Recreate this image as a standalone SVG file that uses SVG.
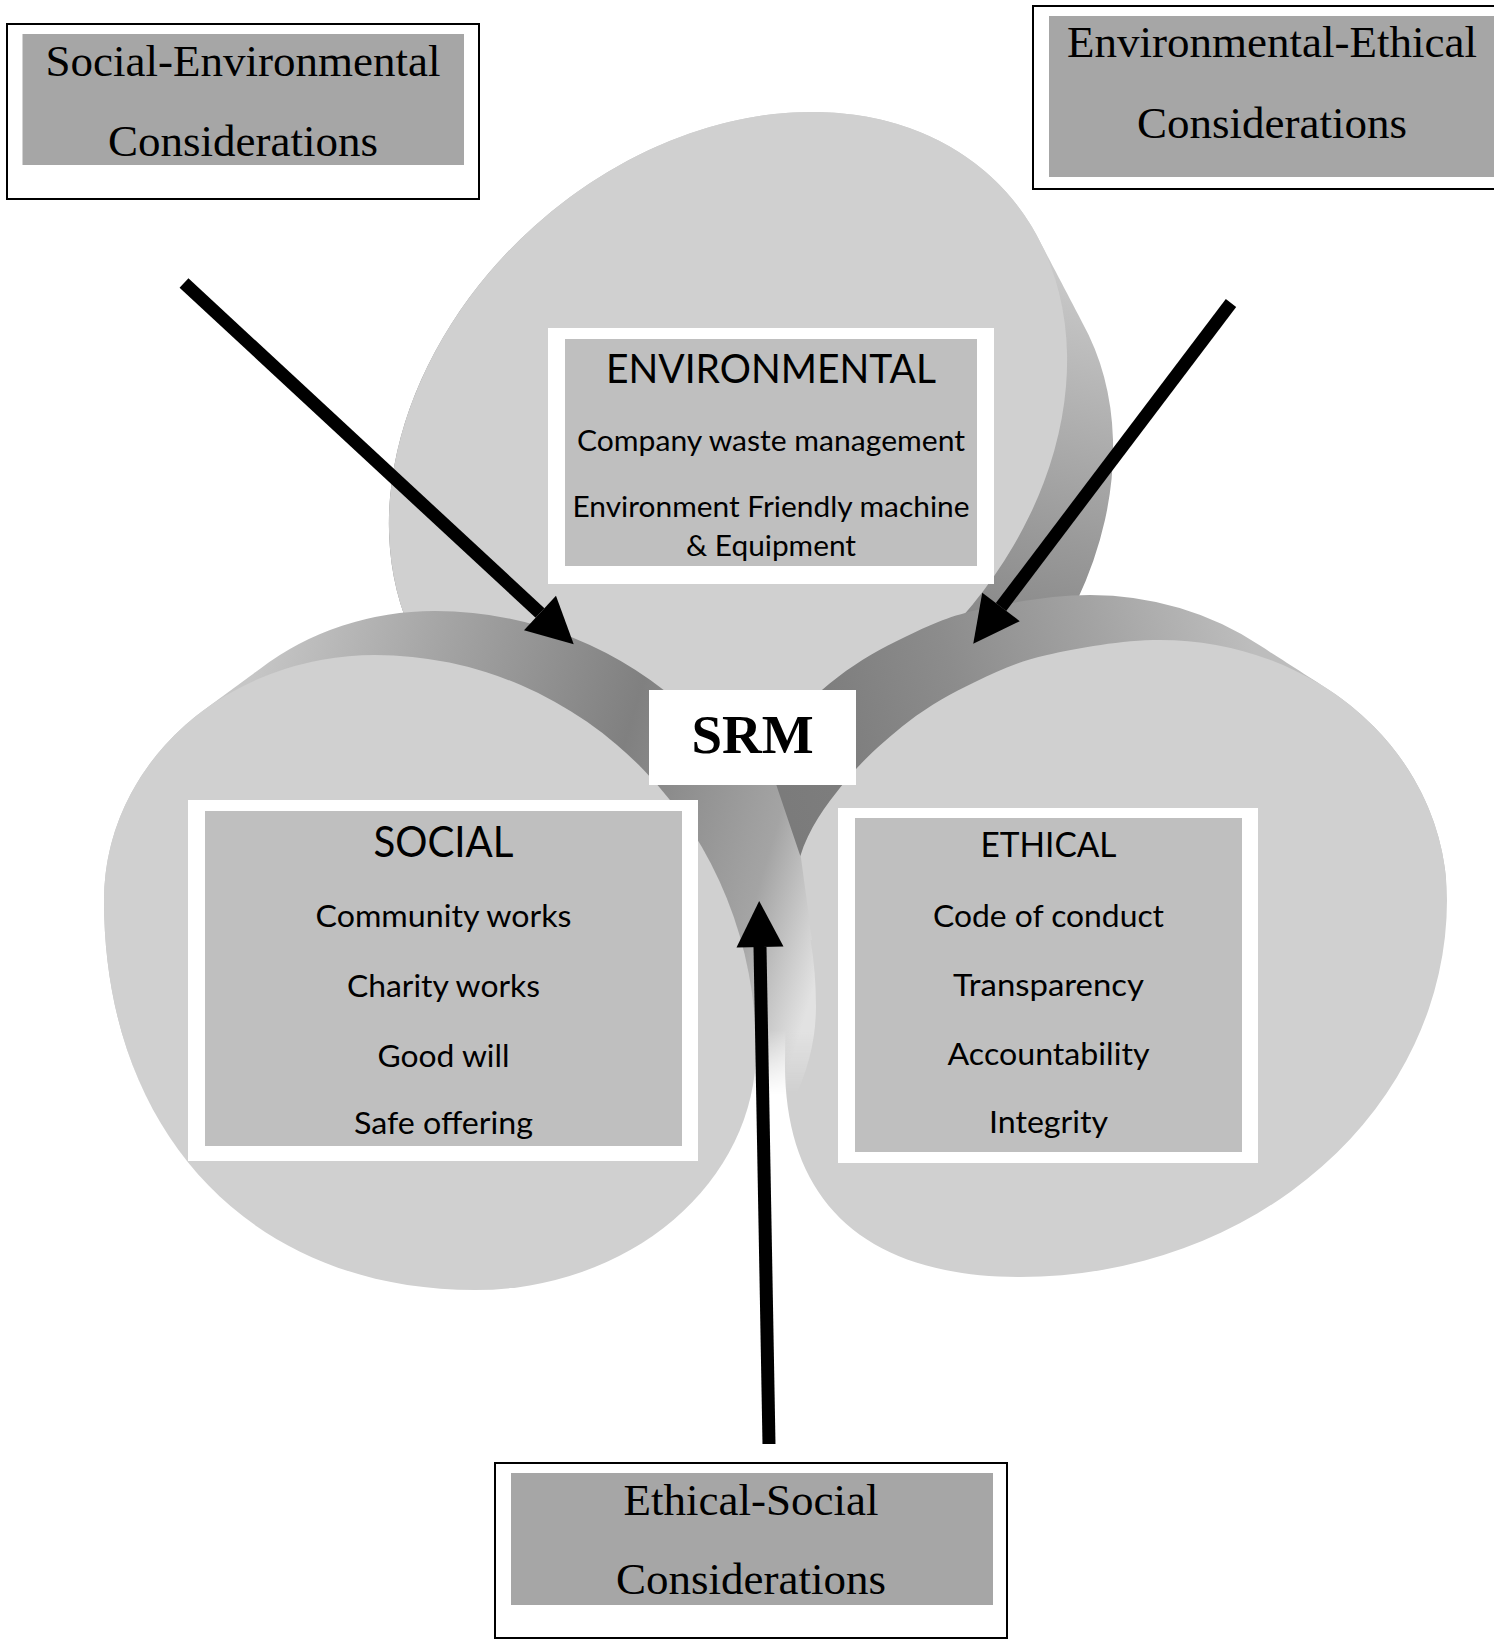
<svg xmlns="http://www.w3.org/2000/svg" width="1494" height="1640" viewBox="0 0 1494 1640">
<style>
.face{fill:#d0d0d0}
.frame{fill:#ffffff}
.inner{fill:#bfbfbf}
.cbox{fill:#ffffff;stroke:#000000;stroke-width:2}
.cinner{fill:#a6a6a6}
.serif{font-family:"Liberation Serif","Times New Roman",serif;font-size:45px;fill:#000000;text-anchor:middle}
.srm{font-family:"Liberation Serif","Times New Roman",serif;font-size:55px;font-weight:bold;fill:#000000;text-anchor:middle}
.sans{font-family:Lato,"Noto Sans",sans-serif;fill:#000000;text-anchor:middle}
.h1{font-size:40.5px}
.h2{font-size:43px}
.h3{font-size:35.7px}
.it{font-size:31px}
.it2{font-size:28.8px}
.arrow{stroke:#000000;stroke-width:13;fill:none;marker-end:url(#ah)}
</style>
<defs>
<marker id="ah" markerUnits="userSpaceOnUse" markerWidth="48" markerHeight="48" refX="0" refY="23.5" orient="auto" overflow="visible"><path d="M0,0 L46,23.5 L0,47 Z" fill="#000000"/></marker>
<ellipse id="fT" cx="728" cy="442" rx="374" ry="290" transform="rotate(-41.9 728 442)"/>
<path id="fS" d="M375,655 A381,395 0 0 1 756,1050 A281,240 0 0 1 475,1290 C252,1290 104,1134 104,900 A271,245 0 0 1 375,655 Z"/>
<path id="fE" d="M1160,640 A287,260 0 0 1 1447,900 A427,377 0 0 1 1020,1277 C867,1277 785,1203 785,1065 C785,1030 786.5,994.7 789,960 C791.5,925.3 791,886.3 800,857 C809,827.7 825,806.5 843,784 C861,761.5 886,739 908,722 C930,705 951.8,693.2 975,682 C998.2,670.8 1016.2,662 1047,655 C1077.8,648 1122,640 1160,640 Z"/>
<clipPath id="cT">
<use href="#fT"/><use href="#fT" transform="translate(5.75,11)"/><use href="#fT" transform="translate(11.5,22)"/><use href="#fT" transform="translate(17.25,33)"/><use href="#fT" transform="translate(23,44)"/><use href="#fT" transform="translate(28.75,55)"/><use href="#fT" transform="translate(34.5,66)"/><use href="#fT" transform="translate(40.25,77)"/><use href="#fT" transform="translate(46,88)"/>
</clipPath>
<clipPath id="cS">
<use href="#fS"/><use href="#fS" transform="translate(7.5,-5.5)"/><use href="#fS" transform="translate(15,-11)"/><use href="#fS" transform="translate(22.5,-16.5)"/><use href="#fS" transform="translate(30,-22)"/><use href="#fS" transform="translate(37.5,-27.5)"/><use href="#fS" transform="translate(45,-33)"/><use href="#fS" transform="translate(52.5,-38.5)"/><use href="#fS" transform="translate(60,-44)"/>
<polygon points="690,690 765,750 778,790 801,858 812,940 770,940 700,800"/>
</clipPath>
<clipPath id="cE">
<use href="#fE"/><use href="#fE" transform="translate(-8.75,-5.625)"/><use href="#fE" transform="translate(-17.5,-11.25)"/><use href="#fE" transform="translate(-26.25,-16.875)"/><use href="#fE" transform="translate(-35,-22.5)"/><use href="#fE" transform="translate(-43.75,-28.125)"/><use href="#fE" transform="translate(-52.5,-33.75)"/><use href="#fE" transform="translate(-61.25,-39.375)"/><use href="#fE" transform="translate(-70,-45)"/>
</clipPath>
<linearGradient id="gT" gradientUnits="userSpaceOnUse" x1="1040" y1="243" x2="924" y2="628">
<stop offset="0" stop-color="#cdcdcd"/><stop offset="0.35" stop-color="#b3b3b3"/><stop offset="0.7" stop-color="#999999"/><stop offset="1" stop-color="#858585"/>
</linearGradient>
<linearGradient id="gS" gradientUnits="userSpaceOnUse" x1="250" y1="680" x2="852" y2="860">
<stop offset="0" stop-color="#c6c6c6"/><stop offset="0.26" stop-color="#a6a6a6"/><stop offset="0.6" stop-color="#808080"/><stop offset="0.87" stop-color="#a4a4a4"/><stop offset="1" stop-color="#e2e2e2"/>
</linearGradient>
<linearGradient id="gE" gradientUnits="userSpaceOnUse" x1="1250" y1="637" x2="778" y2="779">
<stop offset="0" stop-color="#bdbdbd"/><stop offset="0.3" stop-color="#a3a3a3"/><stop offset="0.6" stop-color="#8c8c8c"/><stop offset="0.85" stop-color="#7e7e7e"/><stop offset="1" stop-color="#7b7b7b"/>
</linearGradient>
<linearGradient id="fadeS" gradientUnits="userSpaceOnUse" x1="0" y1="1030" x2="0" y2="1095">
<stop offset="0" stop-color="#ffffff"/><stop offset="1" stop-color="#000000"/>
</linearGradient>
<mask id="mS" maskUnits="userSpaceOnUse" x="0" y="0" width="1494" height="1640"><rect x="0" y="0" width="1494" height="1640" fill="url(#fadeS)"/></mask>
</defs>

<g id="cylinder-environmental">
<rect x="300" y="80" width="900" height="800" fill="url(#gT)" clip-path="url(#cT)"/>
<use href="#fT" class="face"/>
</g>
<g id="cylinder-ethical">
<rect x="700" y="560" width="760" height="320" fill="url(#gE)" clip-path="url(#cE)"/>
<use href="#fE" class="face"/>
</g>
<g id="cylinder-social">
<rect x="80" y="560" width="800" height="600" fill="url(#gS)" clip-path="url(#cS)" mask="url(#mS)"/>
<use href="#fS" class="face"/>
</g>

<g id="environmental">
<rect class="frame" x="548" y="328" width="446" height="256"/>
<rect class="inner" x="565" y="339" width="412" height="227"/>
<text class="sans h1" x="771" y="383" textLength="330" lengthAdjust="spacingAndGlyphs">ENVIRONMENTAL</text>
<text class="sans it2" x="771" y="451" textLength="388" lengthAdjust="spacingAndGlyphs">Company waste management</text>
<text class="sans it2" x="771" y="517" textLength="397" lengthAdjust="spacingAndGlyphs">Environment Friendly machine</text>
<text class="sans it2" x="771" y="556" textLength="170" lengthAdjust="spacingAndGlyphs">&amp; Equipment</text>
</g>

<g id="social">
<rect class="frame" x="188" y="800" width="510" height="361"/>
<rect class="inner" x="205" y="811" width="477" height="335"/>
<text class="sans h2" x="443.5" y="857" textLength="140" lengthAdjust="spacingAndGlyphs">SOCIAL</text>
<text class="sans it" x="443.5" y="927" textLength="256" lengthAdjust="spacingAndGlyphs">Community works</text>
<text class="sans it" x="443.5" y="997" textLength="193" lengthAdjust="spacingAndGlyphs">Charity works</text>
<text class="sans it" x="443.5" y="1067" textLength="132" lengthAdjust="spacingAndGlyphs">Good will</text>
<text class="sans it" x="443.5" y="1134" textLength="179" lengthAdjust="spacingAndGlyphs">Safe offering</text>
</g>

<g id="ethical">
<rect class="frame" x="838" y="808" width="420" height="355"/>
<rect class="inner" x="855" y="818" width="387" height="334"/>
<text class="sans h3" x="1048.5" y="857" textLength="136" lengthAdjust="spacingAndGlyphs">ETHICAL</text>
<text class="sans it" x="1048.5" y="927" textLength="231" lengthAdjust="spacingAndGlyphs">Code of conduct</text>
<text class="sans it" x="1048.5" y="996" textLength="191" lengthAdjust="spacingAndGlyphs">Transparency</text>
<text class="sans it" x="1048.5" y="1065" textLength="202" lengthAdjust="spacingAndGlyphs">Accountability</text>
<text class="sans it" x="1048.5" y="1133" textLength="119" lengthAdjust="spacingAndGlyphs">Integrity</text>
</g>

<g id="srm">
<rect x="649" y="690" width="207" height="95" fill="#ffffff"/>
<text class="srm" x="752.5" y="753">SRM</text>
</g>

<g id="connectors">
<line class="arrow" x1="184" y1="283" x2="540" y2="613"/>
<line class="arrow" x1="1231" y1="303" x2="1001" y2="607"/>
<line class="arrow" x1="769" y1="1444" x2="760" y2="947"/>
</g>

<g id="social-environmental">
<rect class="cbox" x="7" y="24" width="472" height="175"/>
<rect class="cinner" x="22.5" y="34" width="441.5" height="131"/>
<text class="serif" x="243" y="76">Social-Environmental</text>
<text class="serif" x="243" y="156">Considerations</text>
</g>

<g id="environmental-ethical">
<rect class="cbox" x="1033" y="6" width="480" height="183"/>
<rect class="cinner" x="1049" y="16" width="450" height="161"/>
<text class="serif" x="1272" y="57">Environmental-Ethical</text>
<text class="serif" x="1272" y="138">Considerations</text>
</g>

<g id="ethical-social">
<rect class="cbox" x="495" y="1463" width="512" height="175"/>
<rect class="cinner" x="511" y="1473" width="482" height="132"/>
<text class="serif" x="751" y="1515">Ethical-Social</text>
<text class="serif" x="751" y="1594">Considerations</text>
</g>
</svg>
